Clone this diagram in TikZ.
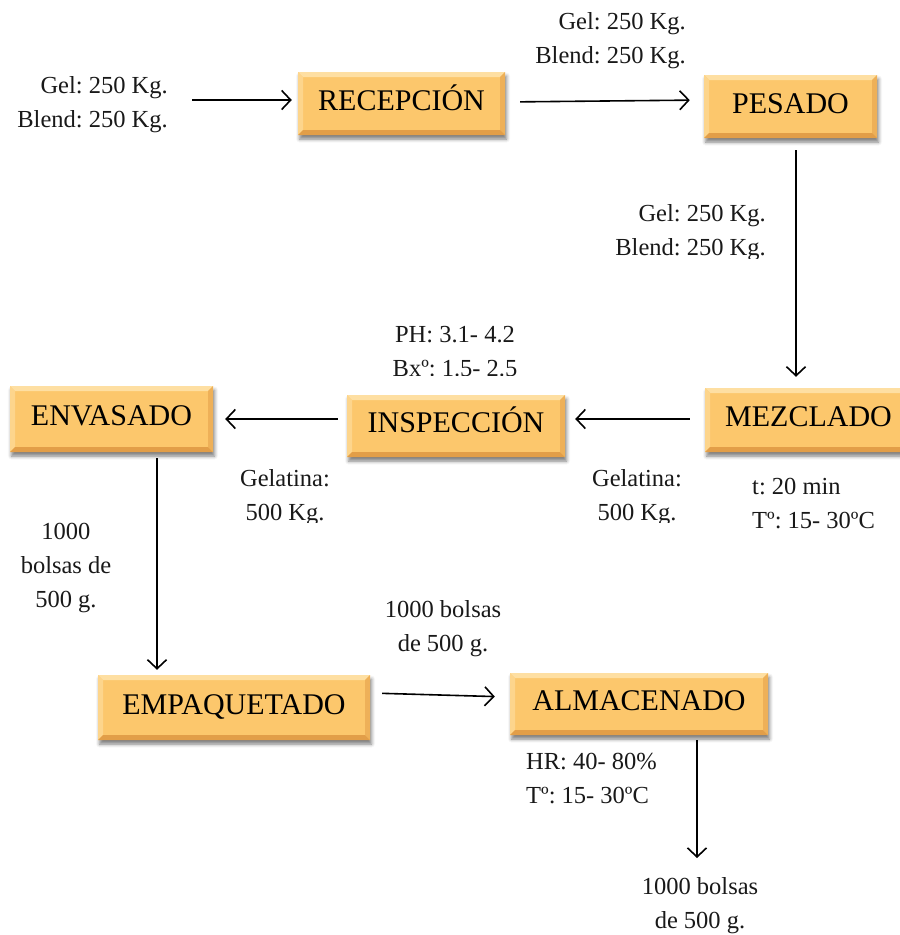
\documentclass[tikz,border=0pt]{standalone}
\usepackage{fontspec}
\setmainfont{Liberation Serif}
\usetikzlibrary{arrows.meta,shadows.blur}
\frenchspacing

\definecolor{boxfill}{RGB}{252,199,108}
\definecolor{bevtop}{RGB}{254,223,162}
\definecolor{bevleft}{RGB}{253,213,140}
\definecolor{bevright}{RGB}{238,176,88}
\definecolor{bevbot}{RGB}{226,158,72}

\tikzset{
  stepbox/.style={fill=boxfill, draw=none, inner sep=0pt,
    font=\fontsize{30}{32}\selectfont, text height=21pt, text depth=8pt,
    blur shadow={shadow xshift=1.5pt, shadow yshift=-4pt,
      shadow blur radius=3.5pt, shadow opacity=50},
    path picture={
      \fill[bevtop] (path picture bounding box.north west) -- (path picture bounding box.north east)
        -- ([shift={(-5pt,-5pt)}]path picture bounding box.north east)
        -- ([shift={(5pt,-5pt)}]path picture bounding box.north west) -- cycle;
      \fill[bevleft] (path picture bounding box.north west) -- (path picture bounding box.south west)
        -- ([shift={(5pt,5pt)}]path picture bounding box.south west)
        -- ([shift={(5pt,-5pt)}]path picture bounding box.north west) -- cycle;
      \fill[bevright] (path picture bounding box.north east) -- (path picture bounding box.south east)
        -- ([shift={(-5pt,5pt)}]path picture bounding box.south east)
        -- ([shift={(-5pt,-5pt)}]path picture bounding box.north east) -- cycle;
      \fill[bevbot] (path picture bounding box.south west) -- (path picture bounding box.south east)
        -- ([shift={(-5pt,5pt)}]path picture bounding box.south east)
        -- ([shift={(5pt,5pt)}]path picture bounding box.south west) -- cycle;
    }},
  lbl/.style={font=\fontsize{24.5}{34}\selectfont, inner sep=0pt, text=black!90},
  arr/.style={line width=1.6pt, -{Straight Barb[length=9pt,width=19pt,line width=1.6pt]}}
}

\begin{document}
\begin{tikzpicture}[x=1pt,y=-1pt]
  \useasboundingbox (0,0) rectangle (900,935);

  % process steps
  \node[stepbox, minimum width=207pt, minimum height=63pt] (rec)  at (401.5,103.5) {RECEPCIÓN};
  \node[stepbox, minimum width=173pt, minimum height=63pt] (pes)  at (790.5,106.5) {PESADO};
  \node[stepbox, minimum width=207pt, minimum height=64pt] (mez)  at (808.5,420)   {MEZCLADO};
  \node[stepbox, minimum width=218pt, minimum height=62pt] (insp) at (456,426)     {INSPECCIÓN};
  \node[stepbox, minimum width=203pt, minimum height=66pt] (env)  at (111.5,419)   {ENVASADO};
  \node[stepbox, minimum width=272pt, minimum height=65pt] (emp)  at (234,707.5)   {EMPAQUETADO};
  \node[stepbox, minimum width=258pt, minimum height=62pt] (alm)  at (639,704)     {ALMACENADO};

  % annotations
  \node[lbl, align=right, anchor=east] (in1) at (168,105) {Gel: 250 Kg.\\Blend: 250 Kg.};
  \node[lbl, align=right, anchor=east] (q2) at (686,41) {Gel: 250 Kg.\\Blend: 250 Kg.};
  \begin{scope}
    \clip (0,150) rectangle (900,258);
    \node[lbl, align=right, anchor=east] (q3) at (766,233) {Gel: 250 Kg.\\Blend: 250 Kg.};
  \end{scope}
  \begin{scope}
    \clip (300,300) rectangle (600,375);
    \node[lbl, align=center] (ph) at (455,352) {PH: 3.1- 4.2\\Bxº: 1.5- 2.5};
  \end{scope}
  \begin{scope}
    \clip (0,460) rectangle (700,522);
    \node[lbl, align=center] (g1) at (285,498) {Gelatina:\\500 Kg.};
    \node[lbl, align=center] (g2) at (637,498) {Gelatina:\\500 Kg.};
  \end{scope}
  \node[lbl, align=left, anchor=west] (cond1) at (752,504) {t: 20 min\\Tº: 15- 30ºC};
  \node[lbl, align=center] (b1) at (66,568) {1000\\bolsas de\\500 g.};
  \node[lbl, align=center] (b2) at (443,629) {1000 bolsas\\de 500 g.};
  \node[lbl, align=left, anchor=west] (cond2) at (526,779) {HR: 40- 80\%\\Tº: 15- 30ºC};
  \node[lbl, align=center] (b3) at (700,906) {1000 bolsas\\de 500 g.};

  % flow
  \coordinate (src) at (192,100);
  \coordinate (dst) at (697,858);
  \draw[arr, shorten >=6pt] (src) -- ([yshift=3.5pt]rec.west);
  \draw[arr, shorten <=15pt, shorten >=14pt] ([yshift=1.5pt]rec.east) -- ([yshift=6.5pt]pes.west);
  \draw[arr] ([xshift=5.5pt,yshift=-12pt]pes.south) -- ([xshift=-12.5pt,yshift=11pt]mez.north);
  \draw[arr, shorten <=15pt, shorten >=10pt] ([yshift=1pt]mez.west) -- ([yshift=7pt]insp.east);
  \draw[arr, shorten <=9pt, shorten >=12pt] ([yshift=7pt]insp.west) -- (env.east);
  \draw[arr] ([xshift=45.5pt,yshift=-6pt]env.south) -- ([xshift=-77pt,yshift=5pt]emp.north);
  \draw[arr, shorten <=12pt, shorten >=15pt] ([yshift=14.5pt]emp.east) -- ([yshift=7pt]alm.west);
  \draw[arr] ([xshift=58pt,yshift=-5pt]alm.south) -- (dst);
\end{tikzpicture}
\end{document}
